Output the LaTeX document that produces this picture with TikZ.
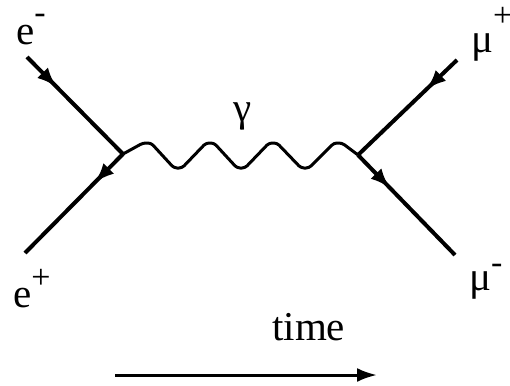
\documentclass[tikz,border=0pt]{standalone}
\usepackage{fontspec}
\setmainfont{Liberation Serif}
\usetikzlibrary{arrows.meta,decorations.markings}
\newcommand{\spsx}[2]{\raisebox{#1pt}[0pt][0pt]{\fontsize{34}{34}\selectfont #2}}
\begin{document}
\begin{tikzpicture}[x=1pt,y=-1pt,
  fermion/.style={line width=4pt},
  photon/.style={line width=3pt, rounded corners=3pt, line join=round},
  lbl/.style={inner sep=0pt, anchor=base west, font=\fontsize{41}{44}\selectfont},
  midarrow/.style={postaction={decorate},decoration={markings,mark=at position #1 with {\arrow{Latex[length=20pt,width=15pt]}}}}
]
\useasboundingbox (0,0) rectangle (510,385);
\coordinate (L) at (123,154);
\coordinate (R) at (358,155);
\coordinate (a) at (27,57);
\coordinate (b) at (25,253);
\coordinate (c) at (457,60);
\coordinate (d) at (455,255);
\coordinate (t1) at (115,375);
\coordinate (t2) at (377,375);
\draw[fermion, midarrow=0.31] (a) -- (L);
\draw[fermion, midarrow=0.29] (L) -- (b);
\draw[fermion, midarrow=0.31] (c) -- (R);
\draw[fermion, midarrow=0.33] (R) -- (d);
\draw[photon] (L) -- (143,143) -- (151,143) -- (174,168) -- (182,168) -- (206,143) -- (214,143) -- (237,168) -- (245,168) -- (269,143) -- (277,143) -- (301,168) -- (309,168) -- (334,143) -- (342,143) -- (R);
\draw[line width=3pt, -{Latex[length=20pt,width=14pt]}] (t1) -- (t2);
\node[lbl] (em) at (16,45) {e\spsx{21}{-}};
\node[lbl] (mup) at (471,53) {μ\spsx{26}{+}};
\node[lbl] (ep) at (13,307) {e\spsx{19}{+}};
\node[lbl] (mum) at (469,290) {μ\spsx{17}{-}};
\node[lbl, anchor=base] (gam) at (243,121) {γ};
\node[lbl] (time) at (272,340) {time};
\end{tikzpicture}
\end{document}
